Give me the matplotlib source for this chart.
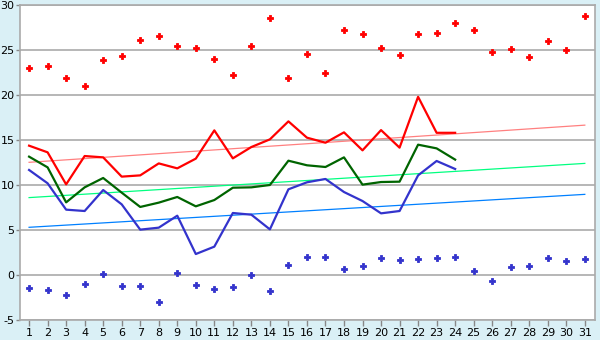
import matplotlib
matplotlib.use("Agg")
import matplotlib.pyplot as plt

plt.rcParams["axes.unicode_minus"] = False

days = list(range(1, 32))

# daily extremes (markers)
max_temp = [23.0, 23.2, 21.85, 20.96, 23.85, 24.3, 26.1, 26.6, 25.4, 25.2,
            24.0, 22.2, 25.4, 28.6, 21.85, 24.6, 22.4, 27.2, 26.75, 25.2,
            24.5, 26.75, 26.85, 27.96, 27.2, 24.74, 25.07, 24.2, 25.96, 24.96, 28.74]
min_temp = [-1.41, -1.7, -2.26, -1.04, 0.07, -1.26, -1.26, -3.04, 0.19, -1.15,
            -1.56, -1.37, -0.04, -1.81, 1.07, 1.96, 1.96, 0.63, 0.96, 1.85,
            1.63, 1.74, 1.85, 1.96, 0.41, -0.7, 0.85, 0.96, 1.85, 1.52, 1.74]

# daily series for the first 24 days
line_days = list(range(1, 25))
high_line = [14.37, 13.63, 10.07, 13.22, 13.07, 10.93, 11.07, 12.4, 11.85, 12.93,
             16.07, 12.96, 14.22, 15.07, 17.07, 15.26, 14.7, 15.85, 13.85, 16.1,
             14.15, 19.8, 15.8, 15.8]
mean_line = [13.15, 11.96, 8.07, 9.74, 10.78, 9.15, 7.56, 8.04, 8.67, 7.63,
             8.33, 9.7, 9.74, 10.0, 12.7, 12.19, 12.0, 13.07, 10.04, 10.33,
             10.37, 14.48, 14.07, 12.82]
low_line = [11.67, 10.19, 7.26, 7.11, 9.44, 7.85, 5.04, 5.26, 6.59, 2.33,
            3.15, 6.89, 6.7, 5.07, 9.52, 10.3, 10.67, 9.22, 8.22, 6.85,
            7.11, 11.07, 12.67, 11.78]

# trend lines: value on day 1 and day 31
trend_days = [1, 31]
high_trend = [12.52, 16.65]
mean_trend = [8.6, 12.4]
low_trend = [5.3, 8.96]

y_ticks = [-5, 0, 5, 10, 15, 20, 25, 30]

bg = "#daf0f6"
grid_c = "#aaaaaa"

fig = plt.figure(figsize=(6, 3.4), dpi=100, facecolor=bg)
ax = fig.add_axes([20 / 600, 20 / 340, 575 / 600, 315 / 340])
ax.set_facecolor("white")

ax.set_xlim(0.51, 31.55)
ax.set_ylim(-5, 30)
ax.set_yticks(y_ticks)
ax.set_xticks(days)
ax.yaxis.grid(True, color=grid_c, linewidth=1.2)
ax.set_axisbelow(True)

for s in ax.spines.values():
    s.set_color(grid_c)
    s.set_linewidth(1.2)

ax.tick_params(axis="both", colors="#888888", labelcolor="black",
               labelsize=8, width=1)
ax.tick_params(axis="y", length=3, pad=1)
ax.tick_params(axis="x", length=4, pad=2)

# trend lines
ax.plot(trend_days, high_trend, color="#ff8080", lw=0.9, zorder=2)
ax.plot(trend_days, mean_trend, color="#00ff80", lw=0.9, zorder=2)
ax.plot(trend_days, low_trend, color="#0080ff", lw=0.9, zorder=2)

# daily lines
ax.plot(line_days, high_line, color="#ff0000", lw=1.6, zorder=3)
ax.plot(line_days, mean_line, color="#006400", lw=1.6, zorder=3)
ax.plot(line_days, low_line, color="#3333cc", lw=1.6, zorder=3)

# extremes
ax.plot(days, max_temp, ls="none", marker="P", ms=4.2, color="#ff0000",
        mec="#ff0000", mew=0.6, zorder=4)
ax.plot(days, min_temp, ls="none", marker="P", ms=4.2, color="#3333cc",
        mec="#3333cc", mew=0.6, zorder=4)

fig.savefig("out.png", dpi=100, facecolor=bg)
